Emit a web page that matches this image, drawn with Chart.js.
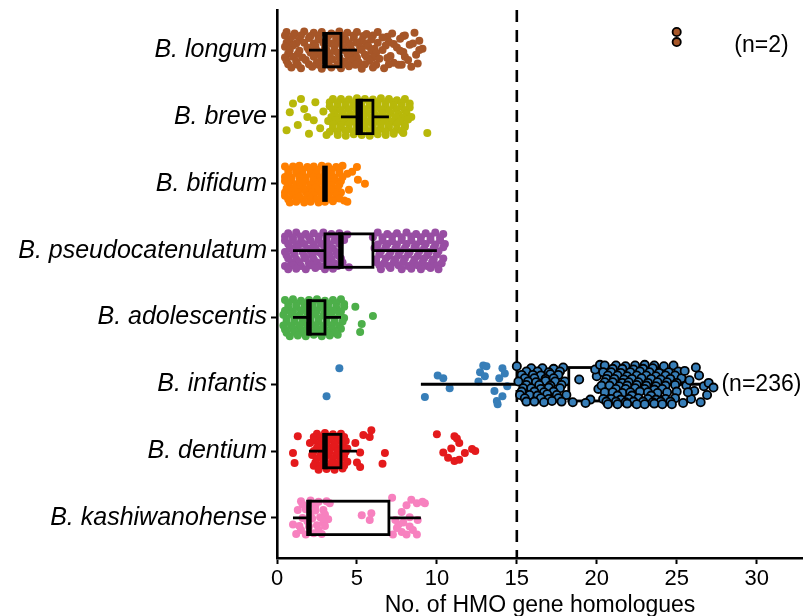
<!DOCTYPE html>
<html>
<head>
<meta charset="utf-8">
<script src="https://cdn.jsdelivr.net/npm/chart.js@4.4.0/dist/chart.umd.min.js"></script>
<style>
  html, body { margin: 0; padding: 0; background: #fff; }
  #wrap { width: 803px; height: 616px; }
</style>
</head>
<body>
<div id="wrap"><canvas id="hmo-chart"></canvas></div>
<script>
// categories top to bottom
const categories = ["B. longum", "B. breve", "B. bifidum", "B. pseudocatenulatum",
    "B. adolescentis", "B. infantis", "B. dentium", "B. kashiwanohense"];
const xTicks = [0, 5, 10, 15, 20, 25, 30];

// box plot stats (whisker low, q1, median, q3, whisker high)
const boxLow    = [2, 4,   3, 1,  1, 9,     2, 1];
const boxQ1     = [3, 5,   3, 3,  2, 18.25, 3, 2];
const boxMedian = [3, 5.2, 3, 4,  2, 22,    3, 2];
const boxQ3     = [4, 6,   3, 6,  3, 24,    4, 7];
const boxHigh   = [5, 7,   3, 10, 4, 27,    5, 9];

// jittered points: [gene count, vertical jitter]
const longumPts = [
    [0.6,-0.27],[1.1,-0.25],[1.7,-0.28],[2.3,-0.26],[2.8,-0.27],[3.4,-0.25],[3.9,-0.28],[4.4,-0.26],[5.0,-0.27],[5.6,-0.24],[6.3,-0.27],[7.2,-0.25],[8.0,-0.22],[8.6,-0.26],
    [0.5,-0.22],[1.0,-0.21],[1.5,-0.22],[2.1,-0.21],[2.6,-0.22],[3.2,-0.21],[3.7,-0.22],[4.2,-0.21],[4.8,-0.22],[5.4,-0.21],[6.0,-0.22],[6.9,-0.2],[7.9,-0.21],
    [0.8,-0.16],[1.4,-0.15],[2.0,-0.18],[2.6,-0.16],[3.1,-0.14],[3.7,-0.17],[4.3,-0.15],[4.8,-0.18],[5.3,-0.14],[5.9,-0.16],[6.6,-0.19],[7.0,-0.12],[7.7,-0.17],[8.9,-0.14],
    [0.6,-0.11],[1.2,-0.1],[1.7,-0.11],[2.3,-0.1],[2.9,-0.11],[3.4,-0.1],[3.9,-0.11],[4.5,-0.1],[5.0,-0.11],[5.6,-0.1],[6.3,-0.11],[7.3,-0.09],[8.5,-0.1],
    [0.5,-0.05],[1.0,-0.07],[1.9,-0.04],[2.4,-0.06],[3.0,-0.03],[3.6,-0.06],[4.1,-0.05],[4.6,-0.07],[5.2,-0.04],[5.7,-0.06],[6.1,-0.02],[6.8,-0.07],[7.5,-0.04],[8.3,-0.08],[9.1,-0.02],
    [0.8,0.0],[1.4,0.01],[2.0,0.0],[2.5,0.01],[3.1,0.0],[3.6,0.01],[4.2,0.0],[4.7,0.01],[5.3,0.0],[5.9,0.01],[6.6,0.0],[7.7,0.01],[8.9,0.0],
    [0.7,0.05],[1.3,0.06],[2.1,0.04],[2.7,0.07],[3.3,0.05],[3.8,0.04],[4.4,0.06],[4.9,0.05],[5.5,0.07],[6.2,0.04],[7.1,0.09],[7.9,0.03],[8.7,0.07],
    [0.5,0.11],[1.0,0.1],[1.6,0.11],[2.3,0.1],[2.8,0.11],[3.3,0.1],[3.9,0.11],[4.5,0.1],[5.0,0.11],[5.6,0.1],[6.0,0.11],[6.9,0.12],[8.0,0.1],
    [0.6,0.16],[1.2,0.17],[1.8,0.15],[2.5,0.18],[3.0,0.16],[3.5,0.14],[4.2,0.17],[4.7,0.15],[5.1,0.18],[5.8,0.16],[6.4,0.13],[7.3,0.19],[8.2,0.15],
    [0.7,0.21],[1.3,0.22],[2.0,0.21],[2.6,0.22],[3.2,0.21],[3.8,0.22],[4.4,0.21],[4.9,0.22],[5.5,0.21],[6.2,0.22],[7.0,0.21],[7.8,0.22],[8.8,0.2],
    [0.9,0.26],[1.5,0.27],[2.2,0.25],[2.8,0.28],[3.4,0.26],[4.0,0.27],[4.5,0.24],[5.3,0.28],[6.0,0.26],[6.7,0.27],[7.6,0.22],[8.4,0.25]
];
const brevePts = [
    [0.6,0.2],[0.8,-0.07],[1.0,-0.2],[1.3,0.12],[1.5,-0.27],[1.7,-0.12],[2.0,0.25],[2.3,0.05],[2.4,-0.22],[2.7,0.17],[2.9,-0.08],[3.1,0.27],[1.9,0.0],
    [3.5,-0.27],[4.0,-0.27],[4.5,-0.26],[5.0,-0.28],[5.5,-0.27],[6.0,-0.26],[6.5,-0.28],[7.0,-0.27],[7.5,-0.25],[8.0,-0.27],
    [3.3,-0.22],[3.8,-0.21],[4.3,-0.22],[4.8,-0.21],[5.3,-0.22],[5.8,-0.21],[6.3,-0.22],[6.8,-0.21],[7.3,-0.22],[7.8,-0.21],[8.3,-0.2],
    [3.3,-0.16],[3.8,-0.15],[4.3,-0.17],[4.8,-0.16],[5.3,-0.15],[5.8,-0.17],[6.3,-0.16],[6.8,-0.15],[7.3,-0.17],[7.8,-0.16],[8.3,-0.14],
    [3.5,-0.11],[4.0,-0.1],[4.5,-0.11],[5.0,-0.1],[5.5,-0.11],[6.0,-0.1],[6.5,-0.11],[7.0,-0.1],[7.5,-0.11],[8.0,-0.1],
    [3.6,-0.05],[4.1,-0.06],[4.6,-0.04],[5.1,-0.05],[5.6,-0.06],[6.1,-0.04],[6.6,-0.05],[7.1,-0.06],[7.6,-0.04],[8.1,-0.05],
    [3.4,0.0],[3.9,0.01],[4.4,0.0],[4.9,0.01],[5.4,0.0],[5.9,0.01],[6.4,0.0],[6.9,0.01],[7.4,0.0],[7.9,0.01],[8.4,0.0],
    [3.2,0.06],[3.7,0.05],[4.2,0.07],[4.7,0.06],[5.2,0.05],[5.7,0.07],[6.2,0.06],[6.7,0.05],[7.2,0.07],[7.7,0.06],[8.2,0.04],
    [3.5,0.11],[4.0,0.12],[4.5,0.11],[5.0,0.12],[5.5,0.11],[6.0,0.12],[6.5,0.11],[7.0,0.12],[7.5,0.11],[8.0,0.12],
    [3.5,0.17],[4.0,0.16],[4.5,0.18],[5.0,0.17],[5.5,0.16],[6.0,0.18],[6.5,0.17],[7.0,0.16],[7.5,0.18],[8.0,0.15],
    [3.3,0.22],[3.8,0.22],[4.3,0.21],[4.8,0.22],[5.3,0.23],[5.8,0.22],[6.3,0.21],[6.8,0.22],[7.3,0.23],[7.8,0.21],
    [3.8,0.27],[4.3,0.28],[4.8,0.26],[5.3,0.27],[5.8,0.28],[6.3,0.26],[6.8,0.27],[7.3,0.25],[7.9,0.24],
    [9.4,0.24]
];
const bifidumPts = [
    [0.5,-0.26],[1.0,-0.26],[1.4,-0.27],[1.9,-0.25],[2.3,-0.26],[2.8,-0.27],[3.2,-0.26],[3.7,-0.25],[4.1,-0.27],
    [0.7,-0.21],[1.2,-0.2],[1.6,-0.21],[2.1,-0.2],[2.5,-0.21],[3.0,-0.2],[3.4,-0.21],[3.9,-0.2],
    [0.7,-0.15],[1.2,-0.16],[1.6,-0.14],[2.1,-0.15],[2.5,-0.16],[3.0,-0.15],[3.4,-0.14],[3.9,-0.16],[4.4,-0.15],
    [0.5,-0.1],[0.9,-0.09],[1.4,-0.1],[1.8,-0.09],[2.3,-0.1],[2.7,-0.09],[3.2,-0.1],[3.6,-0.09],[4.1,-0.1],
    [0.5,-0.04],[0.9,-0.05],[1.4,-0.03],[1.8,-0.04],[2.3,-0.05],[2.7,-0.04],[3.2,-0.03],[3.6,-0.05],[4.0,-0.04],
    [0.7,0.02],[1.2,0.01],[1.6,0.02],[2.1,0.01],[2.5,0.02],[3.0,0.01],[3.4,0.02],[3.9,0.01],
    [0.6,0.07],[1.1,0.06],[1.5,0.08],[2.0,0.07],[2.4,0.06],[2.9,0.07],[3.3,0.08],[3.8,0.06],[4.5,0.09],
    [0.5,0.13],[0.9,0.12],[1.3,0.13],[1.8,0.12],[2.2,0.13],[2.6,0.12],[3.1,0.13],[3.5,0.12],[4.0,0.13],
    [0.5,0.18],[1.0,0.17],[1.4,0.19],[1.9,0.18],[2.3,0.17],[2.8,0.18],[3.2,0.19],[3.7,0.17],
    [0.7,0.23],[1.2,0.22],[1.6,0.23],[2.1,0.22],[2.5,0.23],[3.0,0.22],[3.4,0.23],[3.9,0.22],
    [0.8,0.28],[1.2,0.27],[1.7,0.28],[2.1,0.27],[2.6,0.28],[3.0,0.27],[3.5,0.26],[4.2,0.25],
    [5.0,-0.25],[5.06,-0.06],[5.5,0.0],[4.4,0.27],[4.7,-0.18]
];
const pseudoPts = [
    [0.7,-0.26],[1.2,-0.27],[1.8,-0.25],[2.3,-0.26],[2.9,-0.27],[3.4,-0.25],[3.9,-0.26],[6.3,-0.27],[6.9,-0.25],[7.5,-0.26],[8.1,-0.27],[8.7,-0.25],[9.3,-0.26],[9.9,-0.27],[10.4,-0.25],
    [0.5,-0.21],[1.0,-0.2],[1.5,-0.21],[2.0,-0.2],[2.6,-0.21],[3.1,-0.2],[3.7,-0.21],[6.6,-0.2],[7.2,-0.21],[7.8,-0.2],[8.4,-0.21],[9.0,-0.2],[9.6,-0.21],[10.2,-0.2],
    [0.5,-0.15],[1.0,-0.16],[1.5,-0.14],[2.1,-0.15],[2.6,-0.16],[3.1,-0.14],[3.6,-0.15],[4.2,-0.16],[6.6,-0.15],[7.2,-0.14],[7.8,-0.16],[8.4,-0.15],[9.0,-0.14],[9.6,-0.16],[10.2,-0.15],
    [0.7,-0.1],[1.2,-0.09],[1.7,-0.1],[2.3,-0.09],[2.8,-0.1],[3.3,-0.09],[3.9,-0.1],[6.3,-0.09],[6.9,-0.1],[7.5,-0.09],[8.1,-0.1],[8.7,-0.09],[9.3,-0.1],[9.9,-0.09],[10.5,-0.1],
    [0.8,-0.04],[1.3,-0.05],[1.9,-0.03],[2.4,-0.04],[3.0,-0.05],[3.5,-0.03],[6.1,-0.04],[6.8,-0.05],[7.4,-0.03],[8.0,-0.04],[8.6,-0.05],[9.2,-0.03],[9.8,-0.04],[10.4,-0.05],
    [0.5,0.02],[1.0,0.01],[1.6,0.02],[2.1,0.01],[2.6,0.02],[3.2,0.01],[3.7,0.02],[6.5,0.01],[7.1,0.02],[7.7,0.01],[8.3,0.02],[8.9,0.01],[9.5,0.02],[10.1,0.01],
    [0.6,0.07],[1.1,0.06],[1.7,0.08],[2.2,0.07],[2.8,0.06],[3.3,0.08],[3.8,0.07],[6.4,0.06],[7.0,0.08],[7.6,0.07],[8.2,0.06],[8.8,0.08],[9.4,0.07],[10.0,0.06],
    [0.7,0.12],[1.2,0.13],[1.8,0.12],[2.3,0.13],[2.9,0.12],[3.4,0.13],[4.0,0.12],[6.2,0.13],[6.8,0.12],[7.4,0.13],[8.0,0.12],[8.6,0.13],[9.2,0.12],[9.8,0.13],[10.4,0.12],
    [0.9,0.18],[1.4,0.17],[2.0,0.19],[2.5,0.18],[3.1,0.17],[3.6,0.19],[4.1,0.18],[6.2,0.17],[6.7,0.19],[7.3,0.18],[7.9,0.17],[8.5,0.19],[9.1,0.18],[9.7,0.17],[10.3,0.19],
    [0.5,0.23],[1.0,0.22],[1.5,0.23],[2.1,0.22],[2.7,0.23],[3.2,0.22],[3.8,0.23],[6.4,0.22],[7.0,0.23],[7.6,0.22],[8.2,0.23],[8.8,0.22],[9.4,0.23],[10.0,0.22],
    [0.7,0.28],[1.2,0.27],[1.8,0.28],[2.4,0.26],[3.0,0.28],[3.5,0.27],[6.5,0.28],[7.1,0.26],[7.8,0.28],[8.4,0.27],[9.0,0.28],[9.6,0.26],[10.1,0.28],
    [4.4,-0.24],[4.5,0.25],[6.0,-0.2]
];
const adolescentisPts = [
    [0.5,-0.26],[1.0,-0.27],[1.5,-0.25],[2.0,-0.26],[2.5,-0.27],[3.0,-0.25],[3.5,-0.26],[4.0,-0.27],
    [0.7,-0.21],[1.2,-0.2],[1.7,-0.21],[2.2,-0.2],[2.7,-0.21],[3.2,-0.2],[3.7,-0.21],[4.2,-0.2],
    [0.7,-0.15],[1.2,-0.16],[1.7,-0.14],[2.2,-0.15],[2.7,-0.16],[3.2,-0.14],[3.7,-0.15],[4.2,-0.16],
    [0.5,-0.1],[1.0,-0.09],[1.5,-0.1],[2.0,-0.09],[2.5,-0.1],[3.0,-0.09],[3.5,-0.1],[4.0,-0.09],
    [0.4,-0.04],[0.9,-0.05],[1.4,-0.03],[1.9,-0.04],[2.4,-0.05],[2.9,-0.03],[3.4,-0.04],[3.9,-0.05],
    [0.6,0.02],[1.1,0.01],[1.6,0.02],[2.1,0.01],[2.6,0.02],[3.1,0.01],[3.6,0.02],[4.2,0.01],
    [0.6,0.07],[1.1,0.06],[1.6,0.08],[2.1,0.07],[2.6,0.06],[3.1,0.08],[3.6,0.07],[4.1,0.06],
    [0.4,0.12],[0.9,0.13],[1.4,0.12],[1.9,0.13],[2.4,0.12],[2.9,0.13],[3.4,0.12],[3.9,0.13],
    [0.5,0.18],[1.0,0.17],[1.5,0.19],[2.0,0.18],[2.5,0.17],[3.0,0.19],[3.5,0.18],[4.0,0.17],
    [0.6,0.23],[1.1,0.22],[1.6,0.23],[2.1,0.22],[2.6,0.23],[3.1,0.22],[3.6,0.23],
    [0.8,0.28],[1.3,0.27],[1.8,0.28],[2.3,0.26],[2.8,0.28],[3.3,0.27],[3.8,0.26],
    [4.9,-0.16],[6.0,-0.02],[5.3,0.1],[5.2,0.22]
];
const infantisPts = [
    [3.9,-0.24],[3.1,0.18],[9.25,0.19],[10.05,-0.13],[10.4,-0.09],[10.8,0.06],[12.9,-0.28],[12.7,-0.18],[13.1,-0.27],[13.0,-0.12],
    [12.6,-0.04],[14.1,-0.24],[14.25,-0.16],[13.9,-0.09],[13.6,0.1],[14.1,0.18],[13.75,0.25],[13.8,0.3],[14.4,0.03]
];
const dentiumPts = [
    [2.5,-0.26],[3.0,-0.27],[3.5,-0.25],[4.0,-0.26],
    [2.3,-0.21],[2.7,-0.2],[3.2,-0.21],[3.7,-0.2],[4.2,-0.21],
    [2.3,-0.16],[2.8,-0.15],[3.3,-0.17],[3.8,-0.16],[4.3,-0.15],
    [2.6,-0.1],[3.1,-0.1],[3.6,-0.1],[4.1,-0.1],
    [2.5,-0.05],[3.0,-0.04],[3.5,-0.06],[4.0,-0.05],[4.4,-0.04],
    [2.3,0.0],[2.8,0.0],[3.3,0.01],[3.8,0.0],[4.3,0.01],
    [2.2,0.06],[2.7,0.07],[3.2,0.05],[3.7,0.06],[4.2,0.07],
    [2.5,0.11],[3.0,0.11],[3.5,0.12],[4.0,0.11],
    [2.4,0.17],[2.9,0.16],[3.4,0.18],[3.9,0.17],[4.4,0.16],
    [2.3,0.22],[2.7,0.22],[3.2,0.23],[3.7,0.22],[4.2,0.22],
    [2.6,0.28],[3.1,0.27],[3.6,0.28],[4.1,0.26],
    [1.3,-0.22],[1.0,0.03],[1.1,0.18],[2.06,-0.12],
    [4.9,-0.12],[5.4,-0.24],[5.9,-0.31],[5.8,-0.21],[5.2,0.02],[6.75,0.03],[6.6,0.19],[5.2,0.24],[5.0,0.17],
    [10.0,-0.25],[11.1,-0.22],[11.25,-0.19],[10.9,-0.04],[10.4,0.02],[10.7,0.1],[11.1,0.15],[11.4,0.13],[11.75,0.03],[12.2,-0.03],[12.4,0.0],[11.4,-0.12]
];
const kashiwanohensePts = [
    [1.5,-0.25],[2.1,-0.26],[2.6,-0.24],[3.1,-0.25],
    [1.6,-0.2],[2.4,-0.18],[1.3,-0.12],[1.8,-0.13],[2.4,-0.11],[2.9,-0.12],
    [2.1,-0.05],[3.0,-0.05],[1.0,0.1],[1.6,0.0],[2.2,0.01],[2.7,-0.01],[3.2,0.02],
    [1.9,0.05],[2.9,0.06],[1.4,0.12],[2.0,0.13],[2.5,0.11],[3.0,0.12],
    [1.5,0.18],[2.6,0.18],[1.2,0.24],[1.8,0.25],[2.3,0.23],[2.8,0.24],[3.3,-0.22],
    [5.3,-0.04],[5.8,0.03],[5.9,-0.07],[7.2,-0.3],[7.25,0.25],[7.8,-0.09],[8.1,-0.19],[8.4,-0.27],[8.75,-0.22],[9.1,-0.24],
    [9.25,-0.22],[7.9,0.07],[8.3,0.13],[7.6,0.1],[8.75,0.25],[8.1,0.25],[8.8,0.03],[7.8,0.21],[8.5,0.18],[7.4,0.03],[7.5,0.15],[8.3,-0.01]
];

// points past the dashed line, drawn with a black rim
const longumHighPts = [[25, -0.27], [25, -0.12]];
const infantisHighPts = [
    [15.0,-0.27],
    [15.9,-0.24],[16.6,-0.24],[17.3,-0.23],[17.9,-0.25],
    [15.6,-0.19],[16.3,-0.19],[17.0,-0.18],[17.7,-0.19],
    [15.3,-0.14],[16.0,-0.14],[16.5,-0.13],[17.1,-0.15],[17.6,-0.14],
    [15.5,-0.09],[16.1,-0.09],[16.8,-0.08],[17.3,-0.09],
    [15.1,-0.04],[15.7,-0.04],[16.2,-0.03],[16.8,-0.05],[17.4,-0.04],[18.0,-0.04],
    [15.6,0.01],[16.4,0.01],[17.1,0.02],[17.8,0.01],
    [15.4,0.06],[15.9,0.06],[16.5,0.07],[17.0,0.05],[17.7,0.06],
    [15.3,0.11],[16.1,0.11],[16.7,0.12],[17.3,0.11],
    [15.2,0.16],[15.8,0.16],[16.3,0.17],[16.9,0.15],[17.5,0.16],[18.1,0.16],
    [15.5,0.21],[16.5,0.21],[17.0,0.22],[17.6,0.21],
    [15.6,0.26],[16.1,0.26],[16.7,0.27],[17.2,0.25],[17.8,0.26],
    [18.9,-0.07],[19.6,0.23],[20.0,-0.12],[19.3,0.28],[20.1,0.07],[18.5,0.27],[19.9,-0.22],[20.2,-0.29],
    [20.5,-0.28],[21.2,-0.28],[21.8,-0.27],[22.4,-0.28],[23.0,-0.29],[23.6,-0.28],[24.2,-0.27],[24.8,-0.28],
    [21.0,-0.23],[21.6,-0.23],[22.3,-0.22],[22.9,-0.23],[23.5,-0.24],
    [20.4,-0.18],[20.9,-0.18],[21.5,-0.17],[22.1,-0.18],[22.7,-0.19],[23.3,-0.18],[23.9,-0.17],[24.5,-0.18],[25.1,-0.19],
    [20.7,-0.13],[21.3,-0.13],[21.9,-0.12],[22.5,-0.13],[23.1,-0.13],[23.7,-0.12],[24.3,-0.13],[24.9,-0.13],
    [20.6,-0.08],[21.1,-0.08],[21.7,-0.07],[22.2,-0.08],[22.8,-0.09],[23.4,-0.08],[24.0,-0.07],[24.6,-0.08],[25.3,-0.09],
    [20.5,-0.03],[21.0,-0.03],[21.6,-0.02],[22.0,-0.03],[22.6,-0.03],[23.2,-0.02],[23.8,-0.03],[24.4,-0.03],[25.0,-0.02],
    [20.3,0.02],[20.8,0.02],[21.4,0.03],[21.9,0.02],[22.5,0.01],[23.1,0.02],[23.7,0.03],[24.3,0.02],[24.9,0.01],[25.6,0.02],
    [21.2,0.07],[21.8,0.07],[22.4,0.06],[23.0,0.07],[23.6,0.08],[24.1,0.07],
    [20.5,0.12],[21.0,0.12],[21.6,0.13],[22.1,0.12],[22.7,0.11],[23.2,0.12],[23.8,0.13],[24.4,0.12],[25.0,0.11],
    [21.3,0.17],[22.2,0.17],[23.4,0.17],
    [20.4,0.22],[20.9,0.22],[21.5,0.23],[22.0,0.22],[22.6,0.21],[23.2,0.22],[23.7,0.23],[24.3,0.22],[24.9,0.21],
    [20.6,0.26],[21.2,0.26],[21.8,0.27],[22.3,0.26],[22.9,0.26],[23.5,0.27],[24.0,0.26],[24.6,0.26],
    [20.7,0.3],[21.3,0.3],[21.9,0.29],[22.5,0.3],[23.0,0.3],[23.6,0.29],[24.1,0.3],[24.7,0.3],
    [25.5,-0.2],[25.8,-0.06],[26.1,0.1],[25.9,0.22],[26.4,-0.13],[26.7,0.03],[27.0,-0.02],[27.3,0.05],
    [26.2,-0.25],[25.4,0.28],[26.9,0.16],[25.7,0.12],[26.5,0.27]
];

// count labels
const nLabels = ["(n=2)", "(n=236)"];
const nLabelX = [28.6, 27.8];
const nLabelY = [0.93, 6];

const pointSets = [longumPts, brevePts, bifidumPts, pseudoPts, adolescentisPts, infantisPts, dentiumPts, kashiwanohensePts];
const colors = ["#A65628", "#B8B80A", "#FF7F00", "#984EA3", "#4DAF4A", "#377EB8", "#E41A1C", "#F781BF"];
const fontFamily = "'Liberation Sans', Arial, sans-serif";

function toXY(pts, row) {
    return pts.map(p => ({ x: p[0], y: row + p[1] }));
}

// outlined points go first so they are drawn on top
const highData = toXY(longumHighPts, 1).concat(toXY(infantisHighPts, 6));
const highColors = longumHighPts.map(() => colors[0]).concat(infantisHighPts.map(() => colors[5]));

const datasets = [{
    label: "high",
    data: highData,
    pointBackgroundColor: highColors,
    pointBorderColor: "#000",
    pointBorderWidth: 1.8,
    pointRadius: 4.1,
}];
pointSets.forEach((pts, i) => {
    datasets.push({
        label: categories[i],
        data: toXY(pts, i + 1),
        pointBackgroundColor: colors[i],
        pointBorderWidth: 0,
        pointRadius: 4.0,
    });
});

const boxPlugin = {
    id: "boxes",
    beforeDatasetsDraw(chart) {
        // dashed threshold line
        const ctx = chart.ctx;
        const x = chart.scales.x.getPixelForValue(15);
        ctx.save();
        ctx.strokeStyle = "#000";
        ctx.lineWidth = 2.6;
        ctx.setLineDash([12, 8]);
        ctx.beginPath();
        ctx.moveTo(x, chart.chartArea.top);
        ctx.lineTo(x, chart.chartArea.bottom);
        ctx.stroke();
        ctx.restore();
    },
    beforeDatasetDraw(chart, args) {
        if (args.index !== 0) return;
        const ctx = chart.ctx;
        const xs = chart.scales.x;
        const ys = chart.scales.y;
        ctx.save();
        ctx.strokeStyle = "#000";
        categories.forEach((c, i) => {
            const yc = ys.getPixelForValue(i + 1);
            const y1 = ys.getPixelForValue(i + 0.75);
            const y2 = ys.getPixelForValue(i + 1.25);
            const top = Math.min(y1, y2), h = Math.abs(y2 - y1);
            const lo = xs.getPixelForValue(boxLow[i]);
            const q1 = xs.getPixelForValue(boxQ1[i]);
            const md = xs.getPixelForValue(boxMedian[i]);
            const q3 = xs.getPixelForValue(boxQ3[i]);
            const hi = xs.getPixelForValue(boxHigh[i]);
            ctx.lineWidth = 2.8;
            ctx.beginPath();
            ctx.moveTo(lo, yc); ctx.lineTo(q1, yc);
            ctx.moveTo(q3, yc); ctx.lineTo(hi, yc);
            ctx.stroke();
            if (q3 > q1) ctx.strokeRect(q1, top, q3 - q1, h);
            ctx.lineWidth = 5.5;
            ctx.beginPath();
            ctx.moveTo(md, top - 1.4); ctx.lineTo(md, top + h + 1.4);
            ctx.stroke();
        });
        ctx.restore();
    },
    afterDatasetsDraw(chart) {
        const ctx = chart.ctx;
        ctx.save();
        ctx.fillStyle = "#000";
        ctx.font = "23px " + fontFamily;
        ctx.textAlign = "left";
        ctx.textBaseline = "middle";
        nLabels.forEach((t, i) => {
            ctx.fillText(t, chart.scales.x.getPixelForValue(nLabelX[i]), chart.scales.y.getPixelForValue(nLabelY[i]));
        });
        ctx.restore();
    }
};

new Chart(document.getElementById("hmo-chart"), {
    type: "scatter",
    data: { datasets: datasets },
    plugins: [boxPlugin],
    options: {
        responsive: true,
        maintainAspectRatio: false,
        animation: false,
        layout: { autoPadding: false, padding: { top: 10, right: 0, bottom: 0, left: 0 } },
        plugins: {
            legend: { display: false },
            tooltip: { enabled: false },
        },
        scales: {
            x: {
                type: "linear",
                min: 0,
                max: 32.9,
                afterBuildTicks: (s) => { s.ticks = xTicks.map(v => ({ value: v })); },
                afterFit: (s) => { s.height = 58; },
                grid: { drawOnChartArea: false, drawTicks: true, tickLength: 6, tickWidth: 2, color: "#000" },
                border: { display: true, color: "#000", width: 2.6 },
                ticks: { color: "#000", padding: 2, font: { family: fontFamily, size: 22 } },
                title: {
                    display: true,
                    text: "No. of HMO gene homologues",
                    color: "#000",
                    font: { family: fontFamily, size: 23 },
                    padding: { top: 0, bottom: -3 },
                },
            },
            y: {
                type: "linear",
                reverse: true,
                min: 0.4,
                max: 8.6,
                afterBuildTicks: (s) => { s.ticks = categories.map((c, i) => ({ value: i + 1 })); },
                afterFit: (s) => { s.width = 277; s.paddingTop = 0; s.paddingBottom = 0; },
                grid: { drawOnChartArea: false, drawTicks: true, tickLength: 6, tickWidth: 2, color: "#000" },
                border: { display: true, color: "#000", width: 2.6 },
                ticks: {
                    color: "#000",
                    padding: 4,
                    font: { family: fontFamily, size: 25, style: "italic" },
                    callback: (v) => categories[v - 1],
                },
            },
        },
    },
});
</script>
</body>
</html>
